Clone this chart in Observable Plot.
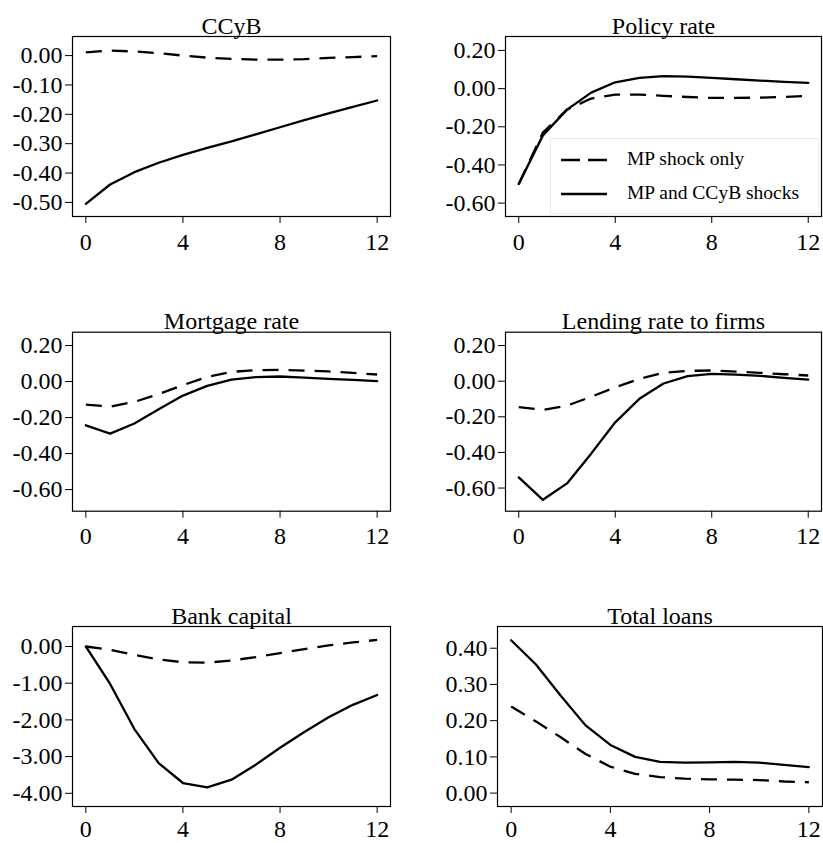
<!DOCTYPE html>
<html><head><meta charset="utf-8">
<script src="https://cdn.jsdelivr.net/npm/d3@7"></script>
<script src="https://cdn.jsdelivr.net/npm/@observablehq/plot@0.6"></script>
<style>
body{margin:0;background:#fff;}
#chart{position:relative;width:823px;height:843px;font-family:"Liberation Serif",serif;overflow:hidden;}
.panel{position:absolute;}
#legend{position:absolute;left:550px;top:138px;width:267px;height:74px;border:1px solid #e2eded;background:#fff;font-size:19.5px;color:#000;}
.lrow{position:absolute;left:0;height:20px;}
.lrow svg{position:absolute;left:9px;top:0;}
.lrow span{position:absolute;left:76px;top:-1px;white-space:nowrap;line-height:20px;}
</style></head><body><div id="chart"></div>
<script>
// ---- data ----
const periods = [0,1,2,3,4,5,6,7,8,9,10,11,12];
const xTicks = [0,4,8,12];
const seriesNames = ["MP shock only", "MP and CCyB shocks"];
const titles = ["CCyB","Policy rate","Mortgage rate","Lending rate to firms","Bank capital","Total loans"];

const ccybMP   = [0.011,0.017,0.014,0.008,0.000,-0.007,-0.011,-0.014,-0.014,-0.012,-0.008,-0.005,-0.002];
const ccybBoth = [-0.505,-0.439,-0.397,-0.365,-0.338,-0.314,-0.292,-0.268,-0.244,-0.220,-0.197,-0.175,-0.153];
const policyMP   = [-0.50,-0.23,-0.11,-0.052,-0.031,-0.031,-0.038,-0.044,-0.049,-0.049,-0.047,-0.044,-0.038];
const policyBoth = [-0.50,-0.245,-0.11,-0.021,0.033,0.056,0.065,0.063,0.056,0.049,0.042,0.035,0.030];
const mortMP   = [-0.128,-0.139,-0.113,-0.070,-0.020,0.026,0.054,0.063,0.065,0.061,0.056,0.048,0.039];
const mortBoth = [-0.243,-0.289,-0.233,-0.154,-0.078,-0.024,0.011,0.024,0.028,0.022,0.015,0.009,0.002];
const lendMP   = [-0.146,-0.161,-0.137,-0.088,-0.034,0.013,0.047,0.058,0.060,0.054,0.047,0.039,0.032];
const lendBoth = [-0.540,-0.666,-0.574,-0.407,-0.231,-0.099,-0.013,0.028,0.041,0.037,0.030,0.019,0.009];
const capMP   = [0,-0.09,-0.23,-0.35,-0.43,-0.44,-0.38,-0.29,-0.18,-0.07,0.03,0.11,0.18];
const capBoth = [0,-1.02,-2.25,-3.18,-3.72,-3.84,-3.63,-3.22,-2.76,-2.33,-1.93,-1.59,-1.32];
const loansMP   = [0.239,0.198,0.154,0.108,0.073,0.053,0.044,0.040,0.038,0.037,0.036,0.032,0.030];
const loansBoth = [0.422,0.355,0.269,0.187,0.133,0.100,0.086,0.084,0.085,0.086,0.084,0.078,0.072];

const yTicksCCyB = [0,-0.1,-0.2,-0.3,-0.4,-0.5];
const yTicksRate = [0.2,0,-0.2,-0.4,-0.6];
const yTicksCap = [0,-1,-2,-3,-4];
const yTicksLoans = [0.4,0.3,0.2,0.1,0];

// ---- layout ----
const panels = [
  {title:titles[0], mp:ccybMP, both:ccybBoth, ticks:yTicksCCyB, dom:[-0.548,0.065], left:0, top:0, w:411, h:270, ml:72, mr:21, mt:36, mb:54, pad:9},
  {title:titles[1], mp:policyMP, both:policyBoth, ticks:yTicksRate, dom:[-0.67,0.273], left:411, top:0, w:412, h:270, ml:94, mr:2, mt:36, mb:54, pad:9},
  {title:titles[2], mp:mortMP, both:mortBoth, ticks:yTicksRate, dom:[-0.72,0.274], left:0, top:280, w:411, h:270, ml:72, mr:21, mt:51.7, mb:39.3, pad:9},
  {title:titles[3], mp:lendMP, both:lendBoth, ticks:yTicksRate, dom:[-0.73,0.275], left:411, top:280, w:412, h:270, ml:94, mr:2, mt:51.7, mb:39.3, pad:9},
  {title:titles[4], mp:capMP, both:capBoth, ticks:yTicksCap, dom:[-4.36,0.545], left:0, top:563, w:411, h:280, ml:72, mr:21, mt:63, mb:37, pad:6},
  {title:titles[5], mp:loansMP, both:loansBoth, ticks:yTicksLoans, dom:[-0.037,0.46], left:411, top:563, w:412, h:280, ml:86, mr:1, mt:63, mb:37, pad:6}
];

const chart = document.getElementById("chart");
const font = "Liberation Serif, serif";

for (const p of panels) {
  const mpData = periods.map((t,i) => ({t, v:p.mp[i]}));
  const bothData = periods.map((t,i) => ({t, v:p.both[i]}));
  const svg = Plot.plot({
    width:p.w, height:p.h,
    marginLeft:p.ml, marginRight:p.mr, marginTop:p.mt, marginBottom:p.mb,
    x:{domain:[-0.55,12.55]},
    y:{domain:p.dom},
    style:{fontFamily:font, fontSize:"24px", background:"transparent", color:"#000", overflow:"visible"},
    marks:[
      Plot.axisY({ticks:p.ticks, tickSize:7, tickPadding:3, tickFormat:d => d.toFixed(2), label:null, fontSize:24, strokeWidth:1}),
      Plot.axisX({ticks:xTicks, tickSize:7, tickPadding:p.pad, tickFormat:d => String(d), label:null, fontSize:24, strokeWidth:1}),
      Plot.line(mpData, {x:"t", y:"v", stroke:"#000", strokeWidth:2.3, strokeDasharray:"16,10", strokeLinecap:"butt"}),
      Plot.line(bothData, {x:"t", y:"v", stroke:"#000", strokeWidth:2.3}),
      Plot.frame({stroke:"#000", strokeWidth:1.2}),
      Plot.text([p.title], {frameAnchor:"top", lineAnchor:"bottom", dy:-3, fontSize:24, fill:"#000"})
    ]
  });
  svg.classList.add("panel");
  svg.style.left = p.left + "px";
  svg.style.top = p.top + "px";
  chart.appendChild(svg);
}

// legend inside Policy rate panel
const legend = document.createElement("div");
legend.id = "legend";
const rows = [{name:seriesNames[0], dash:"19,8", top:11}, {name:seriesNames[1], dash:null, top:45}];
for (const r of rows) {
  const row = document.createElement("div");
  row.className = "lrow";
  row.style.top = r.top + "px";
  row.innerHTML = `<svg width="48" height="20"><line x1="1" y1="10" x2="47" y2="10" stroke="#000" stroke-width="2.3" ${r.dash ? `stroke-dasharray="${r.dash}"` : ""}/></svg><span>${r.name}</span>`;
  legend.appendChild(row);
}
chart.appendChild(legend);
</script></body></html>
